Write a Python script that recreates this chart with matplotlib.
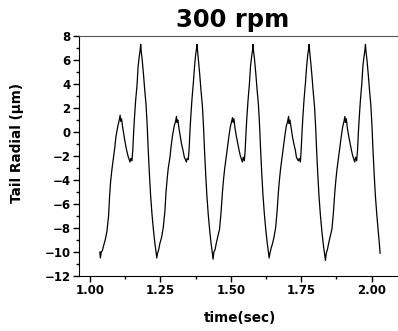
import matplotlib
matplotlib.use("Agg")
import matplotlib.pyplot as plt
from matplotlib.ticker import MultipleLocator

plt.rcParams["font.family"] = ["DejaVu Sans"]

# tail radial displacement, one list pair per revolution (min to min)
t1 = [1.035, 1.037, 1.040, 1.044, 1.048, 1.054, 1.060, 1.066, 1.070, 1.073, 1.078, 1.084,
      1.088, 1.092, 1.099, 1.104, 1.107, 1.109, 1.112, 1.116, 1.121, 1.125, 1.130, 1.135,
      1.139, 1.142, 1.145, 1.149, 1.152, 1.155, 1.158, 1.162, 1.167, 1.171, 1.175, 1.178,
      1.180, 1.182, 1.185, 1.190, 1.194, 1.199, 1.203, 1.207, 1.211, 1.215, 1.220, 1.225,
      1.230, 1.234]
y1 = [-10.0, -10.5, -10.0, -9.9, -9.5, -9.0, -8.3, -7.0, -5.2, -4.2, -3.1, -2.0,
      -1.3, -0.4, 0.5, 1.0, 1.4, 0.9, 1.1, 0.4, -0.3, -0.9, -1.5, -2.0,
      -2.3, -2.5, -2.2, -2.4, -1.5, 0.0, 1.2, 2.6, 3.9, 5.5, 6.3, 6.8,
      7.3, 6.7, 6.1, 4.8, 3.6, 2.3, 0.6, -1.6, -3.5, -5.2, -6.8, -8.1,
      -9.2, -9.9]

t2 = [1.237, 1.240, 1.244, 1.248, 1.254, 1.260, 1.266, 1.270, 1.274, 1.278, 1.284, 1.288,
      1.293, 1.299, 1.304, 1.307, 1.309, 1.312, 1.316, 1.321, 1.325, 1.330, 1.335, 1.339,
      1.342, 1.345, 1.349, 1.352, 1.355, 1.358, 1.362, 1.367, 1.371, 1.375, 1.378, 1.380,
      1.382, 1.385, 1.390, 1.394, 1.399, 1.403, 1.407, 1.411, 1.415, 1.420, 1.425, 1.430,
      1.434]
y2 = [-10.5, -10.1, -9.8, -9.3, -8.8, -8.0, -6.6, -5.0, -3.9, -3.0, -2.1, -1.2,
      -0.3, 0.5, 0.9, 1.3, 0.8, 1.0, 0.3, -0.4, -1.0, -1.5, -2.1, -2.3,
      -2.5, -2.2, -2.3, -1.4, 0.1, 1.3, 2.7, 4.1, 5.4, 6.4, 6.9, 7.3,
      6.8, 6.0, 4.7, 3.5, 2.2, 0.5, -1.7, -3.6, -5.3, -6.9, -8.2, -9.3,
      -10.0]

t3 = [1.437, 1.440, 1.444, 1.449, 1.454, 1.460, 1.465, 1.470, 1.474, 1.478, 1.483, 1.488,
      1.493, 1.498, 1.503, 1.506, 1.508, 1.511, 1.515, 1.520, 1.525, 1.530, 1.534, 1.538,
      1.541, 1.544, 1.548, 1.551, 1.554, 1.557, 1.561, 1.566, 1.570, 1.574, 1.577, 1.579,
      1.581, 1.584, 1.589, 1.593, 1.598, 1.602, 1.606, 1.610, 1.614, 1.619, 1.624, 1.629,
      1.633]
y3 = [-10.6, -10.0, -9.8, -9.2, -8.7, -8.1, -6.8, -5.1, -4.0, -3.1, -2.2, -1.3,
      -0.4, 0.4, 0.9, 1.2, 0.8, 1.1, 0.3, -0.4, -1.0, -1.6, -2.0, -2.3,
      -2.5, -2.1, -2.4, -1.5, 0.0, 1.2, 2.6, 4.0, 5.5, 6.3, 6.8, 7.3,
      6.7, 6.1, 4.8, 3.6, 2.3, 0.6, -1.6, -3.5, -5.2, -6.8, -8.1, -9.2,
      -9.9]

t4 = [1.636, 1.639, 1.643, 1.648, 1.653, 1.659, 1.664, 1.669, 1.673, 1.677, 1.682, 1.687,
      1.692, 1.697, 1.702, 1.705, 1.707, 1.710, 1.714, 1.719, 1.724, 1.729, 1.733, 1.737,
      1.740, 1.743, 1.747, 1.750, 1.753, 1.756, 1.760, 1.765, 1.769, 1.773, 1.776, 1.778,
      1.780, 1.783, 1.788, 1.792, 1.797, 1.801, 1.805, 1.809, 1.813, 1.818, 1.823, 1.828,
      1.832]
y4 = [-10.5, -10.1, -9.7, -9.3, -8.8, -8.0, -6.7, -5.0, -3.9, -3.0, -2.1, -1.2,
      -0.3, 0.5, 0.9, 1.3, 0.7, 1.0, 0.4, -0.4, -1.0, -1.5, -2.1, -2.3,
      -2.4, -2.2, -2.5, -1.4, 0.1, 1.3, 2.7, 4.1, 5.4, 6.4, 6.9, 7.3,
      6.7, 6.0, 4.7, 3.5, 2.2, 0.5, -1.7, -3.6, -5.3, -6.9, -8.2, -9.3,
      -10.0]

t5 = [1.836, 1.839, 1.843, 1.848, 1.853, 1.859, 1.864, 1.869, 1.873, 1.877, 1.882, 1.887,
      1.892, 1.897, 1.902, 1.905, 1.907, 1.910, 1.914, 1.919, 1.924, 1.929, 1.933, 1.937,
      1.940, 1.943, 1.947, 1.950, 1.953, 1.956, 1.960, 1.965, 1.969, 1.973, 1.976, 1.978,
      1.980, 1.983, 1.988, 1.992, 1.997, 2.001, 2.005, 2.009, 2.013, 2.018, 2.023, 2.027,
      2.030]
y5 = [-10.7, -10.1, -9.8, -9.2, -8.7, -8.1, -6.8, -5.1, -4.0, -3.1, -2.2, -1.3,
      -0.4, 0.4, 0.9, 1.3, 0.8, 1.1, 0.3, -0.4, -1.0, -1.6, -2.0, -2.3,
      -2.5, -2.1, -2.4, -1.5, 0.0, 1.2, 2.6, 4.0, 5.5, 6.3, 6.8, 7.3,
      6.7, 6.1, 4.8, 3.6, 2.3, 0.6, -1.6, -3.5, -5.2, -6.8, -8.1, -9.2,
      -10.1]

times = t1 + t2 + t3 + t4 + t5
radial = y1 + y2 + y3 + y4 + y5

fig = plt.figure(figsize=(3.98, 3.31), dpi=100)
ax = fig.add_axes([79 / 398, 55 / 331, 327 / 398, 240 / 331])

ax.plot(times, radial, c="black", lw=0.9)

ax.set_xlim(0.961, 2.122)
ax.set_ylim(-12, 8)
ax.xaxis.set_major_locator(MultipleLocator(0.25))
ax.xaxis.set_minor_locator(MultipleLocator(0.125))
ax.yaxis.set_major_locator(MultipleLocator(2))
ax.yaxis.set_minor_locator(MultipleLocator(1))
ax.xaxis.set_major_formatter(plt.FormatStrFormatter("%.2f"))
ax.tick_params(which="major", direction="out", length=4, width=1, labelsize=8.5, pad=2)
ax.tick_params(which="minor", direction="out", length=2, width=1)
for lab in ax.get_xticklabels() + ax.get_yticklabels():
    lab.set_fontweight("bold")

ax.spines["top"].set_color("#555555")
ax.spines["top"].set_linewidth(0.8)

fig.text(233 / 398, 1 - 20 / 331, "300 rpm", fontsize=17.5, fontweight="bold",
         ha="center", va="center")
fig.text(240 / 398, 1 - 318 / 331, "time(sec)", fontsize=9.8, fontweight="bold",
         ha="center", va="center")
fig.text(17 / 398, 1 - 143 / 331, "Tail Radial (\u03bcm)", fontsize=9.8, fontweight="bold",
         ha="center", va="center", rotation=90)

fig.savefig("out.png", dpi=100)
